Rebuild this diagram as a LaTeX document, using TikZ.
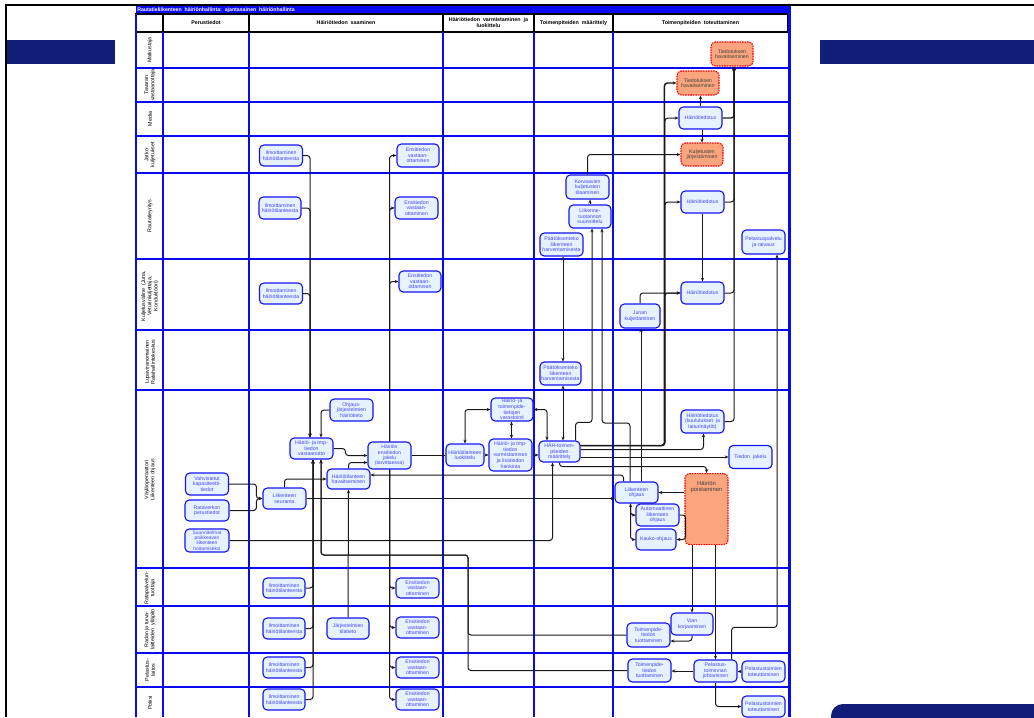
\documentclass[tikz,border=0pt]{standalone}
\usepackage{fontspec}
\setmainfont{Liberation Sans}
\usetikzlibrary{arrows.meta,calc}
\definecolor{lnblue}{RGB}{10,10,240}
\definecolor{nborder}{RGB}{20,20,245}
\definecolor{nfill}{RGB}{230,242,255}
\definecolor{ntext}{RGB}{70,70,245}
\definecolor{ofill}{RGB}{250,165,125}
\definecolor{navy}{RGB}{16,30,120}
\pgfdeclarelayer{bg}
\pgfsetlayers{bg,main}
\begin{document}
\begin{tikzpicture}[x=0.75pt,y=-0.75pt,
 nd/.style={draw=nborder, fill=nfill, text=ntext, rounded corners=3.2pt, line width=0.85pt, align=center, inner sep=0pt, font=\fontsize{3.9}{4.2}\selectfont},
 onode/.style={draw=red, dash pattern=on 1.2pt off 0.7pt, fill=ofill, text=black!75, rounded corners=3.2pt, line width=0.8pt, align=center, inner sep=0pt, font=\fontsize{3.9}{4.2}\selectfont},
 sz/.style 2 args={minimum width=#1*0.75pt, minimum height=#2*0.75pt},
 ln/.style={draw=black!90, line width=0.75pt, rounded corners=2.2pt},
 arr/.style={ln, -{Stealth[length=2.8pt,width=2.4pt]}},
 darr/.style={ln, {Stealth[length=2.8pt,width=2.4pt]}-{Stealth[length=2.8pt,width=2.4pt]}},
 lab/.style={rotate=90, align=center, font=\fontsize{4}{4.6}\selectfont, inner sep=0pt},
 hdr/.style={align=center, font=\bfseries\fontsize{4}{4.6}\selectfont, inner sep=0pt},
]
\path[use as bounding box] (0,0) rectangle (1034,717);
\begin{pgfonlayer}{bg}
\fill[white] (0,0) rectangle (1034,717);
\begin{scope}
\clip (0,0) rectangle (1034,717);
\fill[navy] (7,40) rectangle (115,64);
\fill[navy] (820,40) rectangle (1034,64);
\fill[navy, rounded corners=9pt] (831,740) -- (831,704) -- (1050,704) -- (1050,740) -- cycle;
\draw[black, line width=1.6pt] (6,717) -- (6,5) -- (1034,5);
\end{scope}
% title bar
\fill[lnblue] (136,6) rectangle (791,14);
% header
\draw[black, line width=1.1pt] (136,14) rectangle (788,32);
\foreach \x in {163,249,443,534,613} \draw[black, line width=1pt] (\x,14) -- (\x,32);
% lanes
\foreach \y in {68,102,136,259,330,390,568,653,687} \draw[lnblue, line width=1.2pt] (136,\y) -- (788,\y);
\foreach \y in {173,606} \draw[lnblue, line width=1.6pt] (136,\y) -- (788,\y);
\foreach \x in {163,249,443,534,613} \draw[lnblue, line width=1pt] (\x,32) -- (\x,717);
\draw[lnblue, line width=1.2pt] (136,14) -- (136,717);
\draw[lnblue, line width=2.2pt] (789.5,6) -- (789.5,717);
\end{pgfonlayer}

\node[anchor=west, text=white, font=\bfseries\fontsize{3.9}{4}\selectfont, inner sep=0pt] (title) at (137,10) {Rautatieliikenteen\ \ häiriönhallinta:\ \ ajantasainen\ \ häiriönhallinta};
\node[hdr] (h1) at (206,23) {Perustiedot};
\node[hdr] (h2) at (346,23) {Häiriötiedon\ \ saaminen};
\node[hdr] (h3) at (488.5,23) {Häiriötiedon\ \ varmistaminen\ \ ja\\luokittelu};
\node[hdr] (h4) at (573.5,23) {Toimenpiteiden\ \ määrittely};
\node[hdr] (h5) at (700.5,23) {Toimenpiteiden\ \ toteuttaminen};

\node[lab] (l1) at (150,50) {Matkustaja};
\node[lab] (l2) at (150,85) {Tavaran\\vastaanottaja};
\node[lab] (l3) at (150,119) {Media};
\node[lab] (l4) at (150,154.5) {Jatko-\\kuljetukset};
\node[lab] (l5) at (150,216) {Rautatieyritys};
\node[lab] (l6) at (150,296) {Kuljetusväline\ \ (Juna,\\Veturinkuljettaja,\\Konduktööri)};
\node[lab] (l7) at (150,362) {Lupaviranomainen\\Ratahallintokeskus};
\node[lab] (l8) at (150,480) {Väyläoperaattori\\Liikenteen ohjaus};
\node[lab] (l9) at (150,588) {Ratapalvelun-\\tuottaja};
\node[lab] (l10) at (150,629.5) {Radan ja turva-\\laitteiden\ \ ylläpito};
\node[lab] (l11) at (150,670) {Pelastus-\\laitos};
\node[lab] (l12) at (150,703) {Poliisi};

% Perustiedot
\node[nd,sz={43}{22}] (vahv) at (207,484) {Vahvistetut\\kapasiteetti-\\tiedot};
\node[nd,sz={44}{21}] (rata) at (207,510.5) {Rataverkon\\perustiedot};
\node[nd,sz={44}{23},font=\fontsize{3.7}{3.9}\selectfont] (suun) at (207,540.5) {Suunnitelmat\\poikkeavan\\liikenteen\\hoitamiseksi};
% Hairiotiedon saaminen
\node[nd,sz={43}{21}] (il1) at (281,155.5) {Ilmoittaminen\\häiriötilanteesta};
\node[nd,sz={42}{22}] (il2) at (280,208) {Ilmoittaminen\\häiriötilanteesta};
\node[nd,sz={43}{21}] (il3) at (281,293.5) {Ilmoittaminen\\häiriötilanteesta};
\node[nd,sz={42}{20}] (il4) at (284,588) {Ilmoittaminen\\häiriötilanteesta};
\node[nd,sz={42}{21}] (il5) at (284,628.5) {Ilmoittaminen\\häiriötilanteesta};
\node[nd,sz={42}{21}] (il6) at (284,667.5) {Ilmoittaminen\\häiriötilanteesta};
\node[nd,sz={42}{21}] (il7) at (284,699.5) {Ilmoittaminen\\häiriötilanteesta};
\node[nd,sz={42}{23}] (en1) at (418,155.5) {Ensitiedon\\vastaan-\\ottaminen};
\node[nd,sz={43}{22}] (en2) at (416.5,208) {Ensitiedon\\vastaan-\\ottaminen};
\node[nd,sz={42}{21}] (en3) at (420,281.5) {Ensitiedon\\vastaan-\\ottaminen};
\node[nd,sz={43}{20}] (en4) at (417.5,588) {Ensitiedon\\vastaan-\\ottaminen};
\node[nd,sz={43}{21}] (en5) at (417.5,627.5) {Ensitiedon\\vastaan-\\ottaminen};
\node[nd,sz={43}{21}] (en6) at (417.5,667.5) {Ensitiedon\\vastaan-\\ottaminen};
\node[nd,sz={43}{21}] (en7) at (417.5,699.5) {Ensitiedon\\vastaan-\\ottaminen};
\node[nd,sz={43}{22}] (ohj) at (351.5,410) {Ohjaus-\\järjestelmien\\häiriötieto};
\node[nd,sz={43}{21}] (vast) at (311.5,448.5) {Häiriö- ja tmp-\\tiedon\\vastaanotto};
\node[nd,sz={43}{27},font=\fontsize{3.8}{4}\selectfont] (jak) at (389.5,455.5) {Häiriön\\ensitiedon\\jakelu\\(tarvittaessa)};
\node[nd,sz={43}{20}] (hav) at (348.5,479) {Häiriötilanteen\\havaitseminen};
\node[nd,sz={43}{21}] (seur) at (284.5,498.5) {Liikenteen\\seuranta};
\node[nd,sz={42}{21}] (jarj) at (348,628.5) {Järjestelmien\\tilatieto};
% Varmistaminen
\node[nd,sz={38}{22}] (luok) at (465,455) {Häiriötilanteen\\luokittelu};
\node[nd,sz={43}{32}] (varm) at (510.5,455) {Häiriö- ja tmp-\\tiedon\\varmistaminen\\ja lisätiedon\\hankinta};
\node[nd,sz={42}{23}] (vara) at (512,409.5) {Häiriö- ja\\toimenpide-\\tietojen\\varastointi};
% Maarittely
\node[nd,sz={41}{21}] (hah) at (559.5,451.5) {HÄH-toimen-\\piteiden\\määrittely};
\node[nd,sz={43}{23}] (paat1) at (561.5,244.5) {Päätöksenteko\\liikenteen\\harventamisesta};
\node[nd,sz={41}{23}] (paat2) at (560.5,373.5) {Päätöksenteko\\liikenteen\\harventamisesta};
\node[nd,sz={42}{23}] (liik) at (590,216.5) {Liikenne-\\tuotannon\\suunnittelu};
\node[nd,sz={43}{24}] (korv) at (587.5,187) {Korvaavien\\kuljetusten\\tilaaminen};
% Toteuttaminen
\node[onode,sz={42}{24}] (tied1) at (732,54) {Tiedotuksen\\havaitseminen};
\node[onode,sz={42}{24}] (tied2) at (698,83) {Tiedotuksen\\havaitseminen};
\node[nd,sz={43}{22}] (ht1) at (700.5,118) {Häiriötiedotus};
\node[onode,sz={42}{23}] (kulj) at (702,154.5) {Kuljetusten\\järjestäminen};
\node[nd,sz={43}{22}] (ht2) at (702.5,202) {Häiriötiedotus};
\node[nd,sz={43}{24}] (pelp) at (763.5,242) {Pelastuspalvelu\\ja raivaus};
\node[nd,sz={43}{22}] (ht3) at (702.5,293) {Häiriötiedotus};
\node[nd,sz={40}{24}] (junan) at (640,316) {Junan\\kuljettaminen};
\node[nd,sz={43}{23}] (ht4) at (702.5,421.5) {Häiriötiedotus\\(kuulutukset\ \ ja\\laiturinäytöt)};
\node[nd,sz={43}{23}] (tjak) at (750.5,457) {Tiedon\ \ jakelu};
\node[nd,sz={43}{21}] (lohj) at (636.5,492.5) {Liikenteen\\ohjaus};
\node[nd,sz={43}{22}] (auto) at (657.5,515) {Automaattinen\\liikenteen\\ohjaus};
\node[nd,sz={40}{21}] (kauko) at (656,539.5) {Kauko-ohjaus};
\node[onode,sz={43}{71},anchor=north,font=\fontsize{4.4}{5}\selectfont] (pois) at (706.5,473) {\\[-1pt]Häiriön\\poistaminen\\[30pt]};
\node[nd,sz={42}{22}] (vian) at (692,624) {Vian\\korjaaminen};
\node[nd,sz={43}{24}] (tmp1) at (648.5,635) {Toimenpide-\\tiedon\\tuottaminen};
\node[nd,sz={43}{23}] (tmp2) at (649.5,670.5) {Toimenpide-\\tiedon\\tuottaminen};
\node[nd,sz={43}{22}] (pjoht) at (715.5,671) {Pelastus-\\toiminnan\\johtaminen};
\node[nd,sz={43}{21}] (ptot1) at (763.5,671.5) {Pelastustoimien\\toteuttaminen};
\node[nd,sz={43}{21}] (ptot2) at (763.5,706.5) {Pelastustoimien\\toteuttaminen};

% ---- connectors ----
\draw[arr] (il1.east) -| ($(vast.north)+(-1.5,0)$);
\draw[arr] (il2.east) -| ($(vast.north)+(-1.5,0)$);
\draw[arr] (il3.east) -| ($(vast.north)+(-1.5,0)$);
\draw[arr] (ohj.west) -| ($(vast.north)+(9.5,0)$);
\draw[arr] (il4.east) -| ($(vast.south)+(1.5,0)$);
\draw[arr] (il5.east) -| ($(vast.south)+(1.5,0)$);
\draw[arr] (il6.east) -| ($(vast.south)+(1.5,0)$);
\draw[arr] (il7.east) -| ($(vast.south)+(1.5,0)$);
\draw[arr] (tmp1.west) -| (468,555) -| ($(vast.south)+(9.5,0)$);
\draw[arr] (tmp2.west) -| (468,555) -| ($(vast.south)+(9.5,0)$);
\draw[arr] (jak.north) |- (en1.west);
\draw[arr] (jak.north) |- (en2.west);
\draw[arr] (jak.north) |- (en3.west);
\draw[arr] (jak.south) |- (en4.west);
\draw[arr] (jak.south) |- (en5.west);
\draw[arr] (jak.south) |- (en6.west);
\draw[arr] (jak.south) |- (en7.west);
\draw[arr] (vast.east) -| ($(jak.west)+(-22,0)$) -- (jak.west);
\draw[arr] (hav.north) |- ($(jak.west)+(0,7)$);
\draw[arr] (seur.north) |- (hav.west);
\draw[arr] ($(lohj.north)+(-13,0)$) |- ($(hav.east)+(0,-4)$);
\draw[arr] (jarj.north) -- (hav.south);
\draw[arr] (vahv.east) -| ($(seur.west)+(-6,0)$) -- (seur.west);
\draw[arr] (rata.east) -| ($(seur.west)+(-6,0)$) -- (seur.west);
\draw[arr] (suun.east) -| ($(hah.south)+(-7,0)$);
\draw[arr] (seur.east) -- (seur.east -| lohj.west);
\draw[arr] (jak.east) -- (jak.east -| luok.west);
\draw[arr] (luok.east) -- (luok.east -| varm.west);
\draw[darr] ($(varm.north)+(1,0)$) -- ($(vara.south)+(-0.5,0)$);
\draw[darr] (luok.north) |- (vara.west);
\draw[darr] (vara.east) -| ($(hah.north)+(-12.5,0)$);
\draw[arr] (varm.east) -- (varm.east -| hah.west);
\draw[darr] ($(paat2.south)+(2.5,0)$) -- ($(hah.north)+(3.5,0)$);
\draw[darr] ($(paat1.south)+(1.5,0)$) -- ($(paat2.north)+(2.5,0)$);
\draw[arr] ($(hah.north)+(16,0)$) -- ++(0,-18) -| ($(liik.south)+(2,0)$);
\draw[arr] ($(lohj.north)+(-6.5,0)$) -- (630,423) -| ($(liik.south)+(12,0)$);
\draw[arr] ($(lohj.north)+(4.5,0)$) -- ($(junan.south)+(1,0)$);
\draw[arr] (junan.north) |- (ht3.west);
\draw[arr] (liik.north) -- (liik.north |- korv.south);
\draw[arr] (korv.north) |- (kulj.west);
\draw[arr, line width=1.1pt] ($(hah.east)+(0,-6)$) -| ($(tied2.west)+(-12,0)$) -- (tied2.west);
\draw[arr] ($(hah.east)+(0,-6)$) -| ($(ht1.west)+(-13.5,0)$) -- (ht1.west);
\draw[arr] ($(hah.east)+(0,-6)$) -| ($(ht2.west)+(-15.5,0)$) -- (ht2.west);
\draw[arr] ($(hah.east)+(0,-6)$) -| ($(ht3.west)+(-15.5,0)$) -- (ht3.west);
\draw[arr] ($(hah.east)+(0,-2)$) -| ($(ht4.south)+(1,0)$);
\draw[arr] ($(hah.east)+(0,5.5)$) -- (tjak.west);
\draw[arr] (hah.south) -- ++(0,4) -| (pois.north);
\draw[arr] (ht1.north) -- (ht1.north |- tied2.south);
\draw[arr] ($(ht1.south)+(1.5,0)$) -- (kulj.north);
\draw[arr] (ht2.south) -- (ht3.north);
\draw[arr, line width=1pt] (ht1.east) -| ($(tied1.south)+(2,0)$);
\draw[arr] (ht2.east) -| ($(tied1.south)+(2,0)$);
\draw[arr] (ht3.east) -| ($(tied1.south)+(2,0)$);
\draw[arr] (ht4.east) -| ($(tied1.south)+(2,0)$);
\draw[arr] ($(pjoht.north)+(16,0)$) -- ++(0,-32) -| ($(pelp.south)+(13.5,0)$);
\draw[arr] (pois.west |- lohj.east) -- (lohj.east);
\draw[darr] ($(lohj.south)+(-6,0)$) |- (kauko.west);
\draw[arr] ($(lohj.south)+(-6,0)$) |- (auto.west);
\draw[arr] (auto.east) -- ++(6,0) |- (kauko.east);
\draw[arr] ($(pois.south)+(-14.5,0)$) -- (vian.north);
\draw[arr] (vian.south) |- ($(tmp1.east)+(0,6)$);
\draw[arr] ($(pois.south)+(9,0)$) -- (pjoht.north);
\draw[arr] (pjoht.west) -- (pjoht.west -| tmp2.east);
\draw[arr] (ptot1.west) -- (ptot1.west -| pjoht.east);
\draw[arr] (pjoht.south) |- (ptot2.west);
\end{tikzpicture}
\end{document}
